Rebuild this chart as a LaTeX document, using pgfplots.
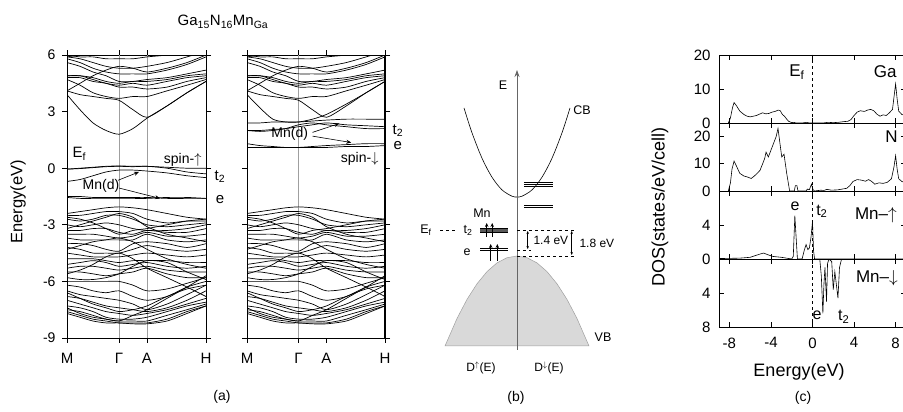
\documentclass[border=0pt]{standalone}
\usepackage{pgfplots}
\pgfplotsset{compat=1.18}
\usepackage{pgfplotstable}
\usepackage{fontspec}
\setmainfont{Liberation Sans}
\usetikzlibrary{arrows.meta}
\newcommand\fs[1]{\fontsize{#1}{#1}\selectfont}

% ---------- band structure data (rows = bands, columns = k points) ----------
\pgfplotstableread{
name k0 k1 k2 k3 k4 k5 k6 k7 k8 k9
k 0 13 26 39 52 66 80 100 120 139
v1 -2.4 -2.3 -2.2 -2.1 -2.05 -2.1 -2.2 -2.4 -2.6 -2.7
v2 -2.5 -2.5 -2.4 -2.3 -2.3 -2.4 -2.7 -2.9 -2.8 -2.8
v3 -2.7 -2.8 -2.7 -2.5 -2.5 -2.7 -3.0 -3.1 -3.0 -2.9
v4 -3.0 -3.1 -3.0 -2.9 -3.0 -3.2 -3.3 -3.3 -3.2 -3.0
v5 -3.3 -3.3 -3.2 -3.2 -3.4 -3.5 -3.3 -3.4 -3.4 -3.2
v6 -3.5 -3.5 -3.5 -3.6 -3.7 -3.6 -3.4 -3.6 -3.6 -3.5
v7 -3.7 -3.8 -3.8 -3.8 -3.8 -3.8 -3.5 -3.8 -3.9 -3.8
v8 -4.0 -4.0 -4.1 -4.3 -4.4 -4.0 -3.9 -4.0 -4.2 -4.0
v9 -4.2 -4.3 -4.5 -4.5 -4.5 -4.3 -4.1 -4.3 -4.4 -4.3
v10 -4.5 -4.6 -4.7 -4.7 -4.7 -4.6 -4.5 -4.6 -4.7 -4.6
v11 -4.8 -4.8 -4.8 -4.9 -5.0 -4.9 -4.9 -4.9 -5.0 -5.0
v12 -5.1 -5.0 -4.9 -5.0 -5.2 -5.1 -5.0 -5.2 -5.3 -5.2
v13 -5.3 -5.2 -5.2 -5.3 -5.4 -5.3 -5.2 -5.4 -5.5 -5.5
v14 -5.5 -5.5 -5.6 -5.7 -5.6 -5.5 -5.3 -5.6 -5.8 -5.8
v15 -5.8 -5.9 -5.9 -5.8 -5.6 -5.2 -4.9 -5.0 -5.5 -5.9
v16 -6.0 -6.0 -6.0 -6.0 -6.0 -6.2 -6.5 -6.4 -6.1 -5.8
v17 -6.2 -6.3 -6.5 -6.6 -6.5 -6.8 -7.0 -6.8 -6.3 -6.0
v18 -6.5 -6.7 -6.8 -6.9 -7.0 -7.2 -7.5 -7.2 -6.7 -6.2
v19 -6.8 -6.9 -7.1 -7.3 -7.4 -7.5 -7.6 -7.4 -7.0 -6.5
v20 -7.0 -7.2 -7.4 -7.6 -7.7 -7.8 -7.7 -7.5 -7.2 -6.9
v21 -7.3 -7.4 -7.6 -7.9 -8.0 -8.0 -7.9 -7.6 -7.3 -7.1
v22 -7.5 -7.6 -7.8 -8.0 -8.1 -8.1 -8.1 -7.8 -7.5 -7.2
v23 -7.6 -7.8 -8.0 -8.1 -8.2 -8.2 -8.2 -8.0 -7.6 -7.3
v24 -7.7 -7.9 -8.1 -8.2 -8.2 -8.25 -8.25 -8.1 -7.7 -7.3
v25 -7.4 -7.7 -7.9 -8.0 -8.1 -7.8 -7.5 -6.9 -6.3 -5.7
v26 -6.6 -6.9 -7.2 -7.4 -7.6 -7.5 -7.3 -6.8 -6.4 -6.2
v27 -3.2 -3.0 -2.8 -2.6 -2.4 -2.6 -3.1 -3.5 -3.7 -3.9
v28 -4.3 -4.1 -3.9 -3.8 -3.7 -3.9 -4.3 -4.8 -5.1 -5.3
v29 -5.6 -5.4 -5.1 -4.7 -4.5 -4.8 -5.3 -5.8 -6.3 -6.8
v30 -2.6 -2.7 -2.9 -3.2 -3.5 -3.3 -3.2 -3.0 -2.8 -2.7
w1 4.1 3.9 3.8 3.7 3.6 3.1 2.7 3.3 4.0 4.6
w2 4.7 4.4 4.0 3.8 3.7 3.8 3.8 4.1 4.4 4.7
w3 4.8 4.8 4.6 4.5 4.3 4.3 4.2 4.3 4.6 4.8
w4 4.9 4.9 4.7 4.5 4.4 4.5 4.4 4.6 4.8 4.9
w5 4.9 4.9 4.8 4.6 4.5 4.6 4.6 4.7 4.9 5.0
w6 5.6 5.4 5.1 4.9 4.6 4.6 4.7 4.8 5.0 5.2
w7 5.8 5.6 5.3 5.1 5.0 5.0 5.0 5.2 5.5 5.9
w8 5.9 5.8 5.6 5.4 5.3 5.3 5.4 5.6 5.9 6.2
w9 6.0 5.9 5.9 5.8 5.8 5.8 5.9 6.0 6.2 6.4
w10 5.9 6.0 6.1 6.2 6.3 6.3 6.2 6.1 6.0 6.0
w11 4.1 4.5 4.9 5.2 5.4 5.3 5.1 5.3 5.6 6.0
u1 3.9 3.1 2.4 2.0 1.8 2.1 2.65 3.3 4.0 4.6
u2 -0.05 0.0 0.05 0.1 0.12 0.1 0.1 0.05 0.0 0.0
u3 -0.05 -0.02 0.03 0.08 0.1 0.08 0.1 0.0 -0.2 -0.3
u4 -0.7 -0.6 -0.4 -0.2 -0.1 -0.1 -0.15 -0.25 -0.4 -0.5
u5 -1.5 -1.5 -1.55 -1.55 -1.55 -1.55 -1.55 -1.6 -1.6 -1.6
u6 -1.55 -1.6 -1.6 -1.6 -1.6 -1.6 -1.6 -1.55 -1.55 -1.6
d1 3.9 3.2 2.6 2.45 2.45 2.6 2.85 3.4 4.0 4.6
d2 2.4 2.4 2.45 2.45 2.45 2.5 2.55 2.6 2.6 2.6
d3 2.0 2.0 2.05 2.1 2.2 2.3 2.4 2.3 2.25 2.2
d4 2.0 1.95 2.0 2.1 2.3 2.4 2.3 2.2 2.1 2.1
d5 1.3 1.2 1.15 1.1 1.1 1.15 1.2 1.25 1.3 1.3
d6 1.1 1.1 1.1 1.1 1.1 1.1 1.1 1.15 1.15 1.2
}\rawbands
\pgfplotstabletranspose[colnames from=name]{\bands}{\rawbands}

% ---------- DOS data ----------
\pgfplotstableread{
x y
-8.1 0
-7.9 1.5
-7.7 4.5
-7.55 6
-7.3 5
-7.0 3.5
-6.6 2.5
-6.3 2
-6.0 1.8
-5.7 2
-5.4 2.2
-5.1 2.6
-4.8 3
-4.5 2.7
-4.2 2.8
-3.9 3.2
-3.6 3.4
-3.3 3.8
-3.1 3.6
-2.9 2.5
-2.7 2.0
-2.5 1.2
-2.3 0.5
-2.0 0.1
-1.8 0.2
-1.6 0
-1.0 0
-0.6 0.2
-0.3 0
1.0 0
1.5 0.2
2.0 0.1
2.5 0.2
3.0 0.4
3.4 0.5
3.7 1.0
4.0 2.2
4.3 3.2
4.6 3.6
5.0 3.4
5.3 3.8
5.6 4.0
5.9 3.6
6.2 2.6
6.5 2.0
6.8 2.4
7.1 2.2
7.4 3.0
7.7 4.0
7.9 9
8.0 11.5
8.15 7
8.3 3.5
8.6 2.5
9.0 2.2
}\gadata
\pgfplotstableread{
x y
-8.1 0
-7.9 3
-7.75 8
-7.55 11
-7.3 9
-7.0 6.5
-6.6 5.5
-6.3 5.2
-5.9 4.6
-5.6 5.5
-5.35 6.4
-5.05 7.6
-4.8 10
-4.6 12
-4.47 14.3
-4.25 12.5
-4.0 15
-3.7 18
-3.5 20
-3.32 23
-3.15 18
-2.96 12.5
-2.74 13.5
-2.48 6.4
-2.2 0
-1.75 0
-1.65 2
-1.5 2
-1.4 0
-0.6 0
-0.5 0.7
-0.3 0.5
-0.1 2.5
0.05 0.5
0.2 0
0.8 0.3
1.1 0.2
1.4 0.6
1.8 0.3
2.4 0.4
3.0 0.8
3.3 1.0
3.6 2
3.9 3.5
4.3 4.2
4.7 4.0
5.1 3.6
5.4 4.2
5.7 3.5
6.0 2.5
6.4 3.0
6.8 2.8
7.2 3.2
7.6 4.5
7.85 9
8.0 13
8.15 8
8.3 4.5
8.6 3.5
9.0 3
}\ndata
\pgfplotstableread{
x y
-9 0.05
-7 0.1
-6 0.2
-5.5 0.4
-5.0 0.6
-4.7 0.7
-4.3 0.5
-3.8 0.3
-3.0 0.2
-2.5 0.1
-2.0 0
-1.85 0.3
-1.7 5.1
-1.55 2
-1.45 0
-1.0 0
-0.8 1.0
-0.62 1.7
-0.45 1.1
-0.3 1.3
-0.15 2.5
0.0 4.4
0.1 1
0.2 0
9 0
}\mnupdata
\pgfplotstableread{
x y
-9 0
0.7 0
0.85 2
1.0 6.4
1.1 3
1.2 1
1.35 5.0
1.45 0.5
1.6 0
1.85 0.3
2.0 3.6
2.15 1.5
2.25 2.5
2.45 4.6
2.6 1.0
2.8 0
9 0
}\mndndata

\pgfplotsset{
  band/.style={black, line width=0.7pt, smooth, tension=0.45, mark=none},
  bandax/.style={anchor=south west, scale only axis, height=283pt,
    xmin=0, xmax=139, ymin=-9, ymax=6,
    xtick={0,52,80,139}, xticklabels={M,Γ,A,H},
    ytick={-9,-6,-3,0,3,6},
    tick align=outside, major tick length=5pt,
    xtick pos=both, ytick pos=both, xticklabel pos=lower, yticklabel pos=left,
    axis line style={line width=0.9pt}, tick style={line width=0.8pt, black},
    clip mode=individual,
    xticklabel style={font=\fs{15}, yshift=-7pt},
    yticklabel style={font=\fs{14}, xshift=-3pt},
    extra x tick labels={},
    extra x tick style={grid=major, major grid style={gray!75, line width=0.7pt}},
  },
  dosax/.style={anchor=south west, scale only axis, width=187pt, height=68pt,
    xmin=-9, xmax=9, xtick={-8,-4,0,4,8},
    tick align=inside, major tick length=5pt,
    xtick pos=both, ytick pos=both, xticklabel pos=lower, yticklabel pos=left,
    axis line style={line width=0.9pt}, tick style={line width=0.8pt, black},
    clip mode=individual,
    xticklabel style={font=\fs{15}, yshift=-7pt},
    yticklabel style={font=\fs{15}, xshift=-5pt},
    extra x ticks={0}, extra x tick labels={},
    extra x tick style={grid=major, major grid style={black, dashed, line width=0.5pt}},
  },
  dosline/.style={black, line width=0.6pt, mark=none},
}

\begin{document}
\begin{tikzpicture}[x=1pt,y=1pt]
\path[use as bounding box] (0,0) rectangle (903,412);

% ================= (a) spin up =================
\begin{axis}[bandax, at={(67pt,74pt)}, width=139pt,
  yticklabels={-9,-6,-3,0,3,6}, extra x ticks={52,80}]
\pgfplotsinvokeforeach{1,...,30}{\addplot[band] table[x=k,y=v#1]{\bands};}
\pgfplotsinvokeforeach{1,...,11}{\addplot[band] table[x=k,y=w#1]{\bands};}
\pgfplotsinvokeforeach{1,...,6}{\addplot[band] table[x=k,y=u#1]{\bands};}
\node[font=\fs{15}, anchor=west] at (axis cs:2,0.75) {E\textsubscript{f}};
\node[font=\fs{14}, anchor=east] at (axis cs:138,0.45) {spin-$\uparrow$};
\node[font=\fs{14}] at (axis cs:34,-0.95) {Mn(d)};
\draw[-{Stealth[length=5pt,width=4pt]}, line width=0.6pt] (axis cs:51,-0.64) -- (axis cs:72,-0.2);
\draw[-{Stealth[length=5pt,width=4pt]}, line width=0.6pt] (axis cs:52,-1.05) -- (axis cs:93,-1.6);
\node[font=\fs{15}] at (axis cs:153,-0.45) {t\textsubscript{2}};
\node[font=\fs{15}] at (axis cs:153,-1.65) {e};
\end{axis}

% ================= (a) spin down =================
\begin{axis}[bandax, at={(247pt,74pt)}, width=138pt,
  yticklabels={}, extra x ticks={52}]
\pgfplotsinvokeforeach{1,...,30}{\addplot[band] table[x=k,y=v#1]{\bands};}
\pgfplotsinvokeforeach{1,...,11}{\addplot[band] table[x=k,y=w#1]{\bands};}
\pgfplotsinvokeforeach{1,...,6}{\addplot[band] table[x=k,y=d#1]{\bands};}
\draw[line width=1.6pt] (rel axis cs:1,0) -- (rel axis cs:1,1);
\node[font=\fs{14}] at (axis cs:43,1.84) {Mn(d)};
\draw[-{Stealth[length=5pt,width=4pt]}, line width=0.6pt] (axis cs:66,1.9) -- (axis cs:93,2.37);
\draw[-{Stealth[length=5pt,width=4pt]}, line width=0.6pt] (axis cs:66,1.7) -- (axis cs:105,1.36);
\node[font=\fs{15}] at (axis cs:152,2.0) {t\textsubscript{2}};
\node[font=\fs{15}] at (axis cs:152,1.2) {e};
\node[font=\fs{14}, anchor=east] at (axis cs:136,0.5) {spin-$\downarrow$};
\end{axis}

% ================= (b) schematic =================
\begin{axis}[anchor=south west, at={(400pt,40pt)}, scale only axis,
  width=240pt, height=320pt, xmin=400, xmax=640, ymin=40, ymax=360,
  hide axis, clip=false]
% valence band (filled)
\addplot[fill=gray!30, draw=gray!75, line width=0.5pt] coordinates {
(445,66) (457,93.5) (467,112.6) (477,128.2) (487,140.4) (497,149.1) (507,154.3)
(517,156) (527,154.3) (537,149.1) (547,140.4) (557,128.2) (567,112.6) (577,93.5) (589,66)} -- cycle;
% conduction band
\addplot[black, line width=0.6pt, smooth] coordinates {
(464,304) (472,279.2) (482,253.8) (492,234.8) (502,222.1) (512,215.8) (517,215)
(522,215.8) (532,222.1) (542,234.8) (552,253.8) (562,279.2) (570,304)};
% energy axis
\addplot[gray!80!black, line width=0.7pt, -{Stealth[length=7pt,width=5pt]}] coordinates {(517,62) (517,342)};
% Mn levels, spin up side
\addplot[gray!70!black, line width=4pt] coordinates {(480,181.5) (508,181.5)};
\addplot[black, line width=0.5pt] coordinates {(480,183.5) (508,183.5)};
\addplot[black, line width=0.5pt] coordinates {(480,179.5) (508,179.5)};
\addplot[black, line width=0.6pt] coordinates {(480,163.7) (508,163.7)};
\addplot[black, line width=0.6pt] coordinates {(480,161.7) (508,161.7)};
% spin arrows
\addplot[black, line width=0.7pt, -{Stealth[length=4pt,width=3.5pt]}] coordinates {(486.7,175) (486.7,189)};
\addplot[black, line width=0.7pt, -{Stealth[length=4pt,width=3.5pt]}] coordinates {(492.2,175) (492.2,189)};
\addplot[black, line width=0.7pt, -{Stealth[length=4pt,width=3.5pt]}] coordinates {(490.7,151) (490.7,168)};
\addplot[black, line width=0.7pt, -{Stealth[length=4pt,width=3.5pt]}] coordinates {(497.3,151) (497.3,168)};
% spin down levels
\addplot[black, line width=0.6pt] coordinates {(524,229.3) (553,229.3)};
\addplot[black, line width=0.6pt] coordinates {(524,227.7) (553,227.7)};
\addplot[black, line width=0.6pt] coordinates {(524,226) (553,226)};
\addplot[black, line width=0.6pt] coordinates {(524,207) (553,207)};
\addplot[black, line width=0.6pt] coordinates {(524,204.3) (553,204.3)};
% dashed reference lines
\addplot[black, dashed, line width=0.5pt] coordinates {(517,182) (575,182)};
\addplot[black, dashed, line width=0.5pt] coordinates {(517,156) (575,156)};
\addplot[black, dashed, line width=0.5pt] coordinates {(517,162) (531,162)};
\addplot[black, dashed, line width=0.5pt] coordinates {(440,182) (457,182)};
% gap arrows
\addplot[black, line width=0.5pt, {Stealth[length=3pt,width=2.5pt]}-{Stealth[length=3pt,width=2.5pt]}] coordinates {(527.7,181) (527.7,163)};
\addplot[black, line width=0.5pt, {Stealth[length=3pt,width=2.5pt]}-{Stealth[length=3pt,width=2.5pt]}] coordinates {(571.7,181) (571.7,157)};
\node[font=\fs{12}, anchor=west] at (axis cs:530,172) {1.4 eV};
\node[font=\fs{12}, anchor=west] at (axis cs:576,169) {1.8 eV};
\node[font=\fs{12.5}] at (axis cs:503,327) {E};
\node[font=\fs{12.5}] at (axis cs:582,302) {CB};
\node[font=\fs{12.5}] at (axis cs:603,75) {VB};
\node[font=\fs{12.5}] at (axis cs:482,199) {Mn};
\node[font=\fs{12.5}] at (axis cs:426,182) {E\textsubscript{f}};
\node[font=\fs{12.5}] at (axis cs:468,182) {t\textsubscript{2}};
\node[font=\fs{12.5}] at (axis cs:467,160) {e};
\node[font=\fs{12}] at (axis cs:481,44) {D\textsuperscript{$\uparrow$}(E)};
\node[font=\fs{12}] at (axis cs:549,44) {D\textsuperscript{$\downarrow$}(E)};
\end{axis}

% ================= (c) DOS =================
\begin{axis}[dosax, at={(719pt,289pt)}, ymin=0, ymax=20, ytick={0,10,20}, yticklabels={0,10,20}, xticklabels={}]
\addplot[dosline] table[x=x,y=y]{\gadata};
\node[font=\fs{17}] at (axis cs:-1.5,15) {E\textsubscript{f}};
\node[font=\fs{17}] at (axis cs:7.0,15) {Ga};
\end{axis}
\begin{axis}[dosax, at={(719pt,221pt)}, ymin=0, ymax=25, ytick={0,10,20}, yticklabels={0,10,20}, xticklabels={}]
\addplot[dosline] table[x=x,y=y]{\ndata};
\node[font=\fs{17}] at (axis cs:7.6,20) {N};
\end{axis}
\begin{axis}[dosax, at={(719pt,153pt)}, ymin=0, ymax=8, ytick={0,4}, yticklabels={0,4}, xticklabels={}]
\addplot[dosline] table[x=x,y=y]{\mnupdata};
\node[font=\fs{16}] at (axis cs:-1.68,6.2) {e};
\node[font=\fs{16}] at (axis cs:0.9,5.6) {t\textsubscript{2}};
\node[font=\fs{17}] at (axis cs:6.1,5.1) {Mn--$\uparrow$};
\end{axis}
\begin{axis}[dosax, at={(719pt,85pt)}, ymin=0, ymax=8, y dir=reverse, ytick={4,8}, yticklabels={4,8}, xticklabels={-8,-4,0,4,8}]
\addplot[dosline] table[x=x,y=y]{\mndndata};
\node[font=\fs{16}] at (axis cs:0.45,6.6) {e};
\node[font=\fs{16}] at (axis cs:3.0,6.8) {t\textsubscript{2}};
\node[font=\fs{17}] at (axis cs:6.2,2.2) {Mn--$\downarrow$};
\end{axis}

% ================= titles and labels =================
\node[font=\fs{15}] at (223,390) {Ga\textsubscript{15}N\textsubscript{16}Mn\textsubscript{Ga}};
\node[rotate=90, font=\fs{16.5}] at (18,210) {Energy(eV)};
\node[font=\fs{14}] at (222,15) {(a)};
\node[font=\fs{14}] at (516,14) {(b)};
\node[font=\fs{14}] at (803,14) {(c)};
\node[font=\fs{18}] at (799,40) {Energy(eV)};
\node[rotate=90, font=\fs{18}] at (660,205) {DOS(states/eV/cell)};
\end{tikzpicture}
\end{document}
